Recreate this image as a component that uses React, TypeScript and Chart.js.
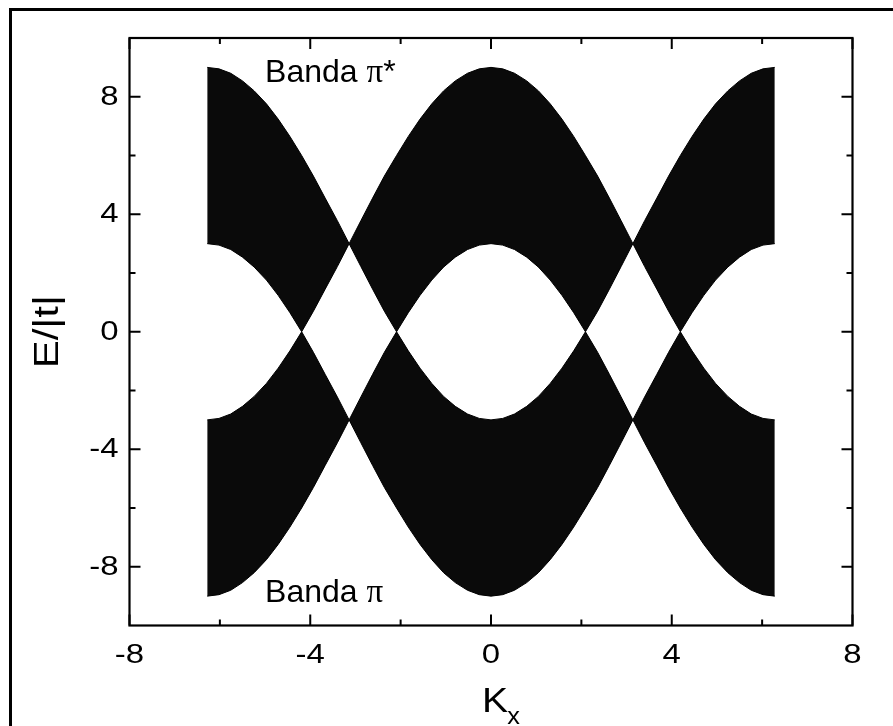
import React, { useEffect, useRef } from "react";
import { Chart, registerables } from "chart.js";

Chart.register(...registerables);

// Wave vector samples (step pi/12) across two Brillouin-zone widths
const KX = [
  -6.28, -6.02, -5.76, -5.5, -5.24, -4.97, -4.71, -4.45, -4.19, -3.93, -3.67, -3.4,
  -3.14, -2.88, -2.62, -2.36, -2.09, -1.83, -1.57, -1.31, -1.05, -0.79, -0.52, -0.26,
  0,
  0.26, 0.52, 0.79, 1.05, 1.31, 1.57, 1.83, 2.09, 2.36, 2.62, 2.88, 3.14,
  3.4, 3.67, 3.93, 4.19, 4.45, 4.71, 4.97, 5.24, 5.5, 5.76, 6.02, 6.28,
];

// Upper edge of the pi* band, E/|t|
const PI_STAR_TOP = [
  9.0, 8.95, 8.8, 8.54, 8.2, 7.76, 7.24, 6.65, 6.0, 5.3, 4.55, 3.78,
  3.0, 3.78, 4.55, 5.3, 6.0, 6.65, 7.24, 7.76, 8.2, 8.54, 8.8, 8.95,
  9.0,
  8.95, 8.8, 8.54, 8.2, 7.76, 7.24, 6.65, 6.0, 5.3, 4.55, 3.78, 3.0,
  3.78, 4.55, 5.3, 6.0, 6.65, 7.24, 7.76, 8.2, 8.54, 8.8, 8.95, 9.0,
];

// Lower edge of the pi* band, E/|t|
const PI_STAR_BOTTOM = [
  3.0, 2.95, 2.8, 2.54, 2.2, 1.76, 1.24, 0.65, 0.0, 0.7, 1.45, 2.22,
  3.0, 2.22, 1.45, 0.7, 0.0, 0.65, 1.24, 1.76, 2.2, 2.54, 2.8, 2.95,
  3.0,
  2.95, 2.8, 2.54, 2.2, 1.76, 1.24, 0.65, 0.0, 0.7, 1.45, 2.22, 3.0,
  2.22, 1.45, 0.7, 0.0, 0.65, 1.24, 1.76, 2.2, 2.54, 2.8, 2.95, 3.0,
];

const X_MAJOR = [-8, -4, 0, 4, 8];
const X_MINOR = [-6, -2, 2, 6];
const Y_MAJOR = [-8, -4, 0, 4, 8];
const Y_MINOR = [-6, -2, 2, 6];

const X_TITLE = "K";
const X_TITLE_SUB = "x";
const Y_TITLE = "E/|t|";
const LABEL_PI_STAR = { x: -5.0, y: 8.49, parts: ["Banda ", "\u03c0", "*"] };
const LABEL_PI = { x: -5.0, y: -9.19, parts: ["Banda ", "\u03c0"] };

const SANS = '"Liberation Sans", Arial, Helvetica, sans-serif';
const SERIF = '"Liberation Serif", "Times New Roman", serif';
const INK = "#000";
const BAND_FILL = "#0a0a0a";

function stretchedText(
  ctx: CanvasRenderingContext2D,
  text: string,
  x: number,
  y: number,
  sx: number,
  align: "left" | "center" | "right"
) {
  const w = ctx.measureText(text).width * sx;
  const x0 = align === "left" ? x : align === "center" ? x - w / 2 : x - w;
  ctx.save();
  ctx.translate(x0, y);
  ctx.scale(sx, 1);
  ctx.textAlign = "left";
  ctx.fillText(text, 0, 0);
  ctx.restore();
  return w;
}

const framePlugin = {
  id: "originFrame",
  afterDatasetsDraw(chart: any) {
    const { ctx, chartArea: a, scales } = chart;
    const xs = scales.x;
    const ys = scales.y;
    ctx.save();
    ctx.fillStyle = INK;
    ctx.strokeStyle = INK;

    // band labels
    const drawLabel = (lab: { x: number; y: number; parts: string[] }) => {
      let px = xs.getPixelForValue(lab.x);
      const py = ys.getPixelForValue(lab.y);
      ctx.textBaseline = "alphabetic";
      lab.parts.forEach((p) => {
        ctx.font = p === "\u03c0" ? `33px ${SERIF}` : `32px ${SANS}`;
        px += stretchedText(ctx, p, px, py, 1, "left");
      });
    };
    drawLabel(LABEL_PI_STAR);
    drawLabel(LABEL_PI);

    // outer figure border (top and left)
    ctx.fillRect(9, 8, chart.width - 9, 3);
    ctx.fillRect(9, 8, 3, chart.height - 8);

    // plot frame
    ctx.lineWidth = 2.2;
    ctx.strokeRect(a.left, a.top, a.right - a.left, a.bottom - a.top);

    // inward ticks on all four sides
    const tick = (v: number, len: number) => {
      const px = xs.getPixelForValue(v);
      ctx.beginPath();
      ctx.moveTo(px, a.bottom);
      ctx.lineTo(px, a.bottom - len);
      ctx.moveTo(px, a.top);
      ctx.lineTo(px, a.top + len);
      ctx.stroke();
    };
    const ytick = (v: number, len: number) => {
      const py = ys.getPixelForValue(v);
      ctx.beginPath();
      ctx.moveTo(a.left, py);
      ctx.lineTo(a.left + len, py);
      ctx.moveTo(a.right, py);
      ctx.lineTo(a.right - len, py);
      ctx.stroke();
    };
    ctx.lineWidth = 2;
    X_MAJOR.forEach((v) => tick(v, 11));
    X_MINOR.forEach((v) => tick(v, 6));
    Y_MAJOR.forEach((v) => ytick(v, 11));
    Y_MINOR.forEach((v) => ytick(v, 6));

    // tick labels
    ctx.font = `27px ${SANS}`;
    ctx.textBaseline = "alphabetic";
    X_MAJOR.forEach((v) => {
      stretchedText(ctx, String(v), xs.getPixelForValue(v), a.bottom + 37, 1.22, "center");
    });
    Y_MAJOR.forEach((v) => {
      stretchedText(ctx, String(v), a.left - 11, ys.getPixelForValue(v) + 8, 1.22, "right");
    });

    // y title, rotated
    ctx.save();
    ctx.translate(58, (a.top + a.bottom) / 2);
    ctx.rotate(-Math.PI / 2);
    ctx.font = `35px ${SANS}`;
    stretchedText(ctx, Y_TITLE, 0, 0, 1.2, "center");
    ctx.restore();

    // x title with subscript
    ctx.font = `35px ${SANS}`;
    const kx0 = (a.left + a.right) / 2 - 9;
    const kw = stretchedText(ctx, X_TITLE, kx0, 712, 1.12, "left");
    ctx.font = `23px ${SANS}`;
    stretchedText(ctx, X_TITLE_SUB, kx0 + kw - 1, 724, 1.1, "left");

    ctx.restore();
  },
};

export default function App() {
  const canvasRef = useRef<HTMLCanvasElement | null>(null);

  useEffect(() => {
    if (!canvasRef.current) return;
    const pts = (ys: number[], sign: number) => KX.map((x, i) => ({ x, y: sign * ys[i] }));
    const line = { borderColor: INK, borderWidth: 1, pointRadius: 0, tension: 0 };
    const chart = new Chart(canvasRef.current, {
      type: "line",
      data: {
        datasets: [
          { ...line, label: "pi* top", data: pts(PI_STAR_TOP, 1), fill: false },
          { ...line, label: "pi* bottom", data: pts(PI_STAR_BOTTOM, 1), fill: "-1", backgroundColor: BAND_FILL },
          { ...line, label: "pi bottom", data: pts(PI_STAR_TOP, -1), fill: false },
          { ...line, label: "pi top", data: pts(PI_STAR_BOTTOM, -1), fill: "-1", backgroundColor: BAND_FILL },
        ],
      },
      options: {
        animation: false,
        responsive: false,
        maintainAspectRatio: false,
        layout: { padding: { left: 129.5, top: 38, right: 40.5, bottom: 100.5 } },
        plugins: { legend: { display: false }, tooltip: { enabled: false } },
        scales: {
          x: { type: "linear", min: -8, max: 8, display: false },
          y: { type: "linear", min: -10, max: 10, display: false },
        },
      },
      plugins: [framePlugin],
    });
    return () => chart.destroy();
  }, []);

  return (
    <div style={{ position: "absolute", left: 0, top: 0, width: 893, height: 726, background: "#fff" }}>
      <canvas ref={canvasRef} width={893} height={726} style={{ display: "block" }} />
    </div>
  );
}
